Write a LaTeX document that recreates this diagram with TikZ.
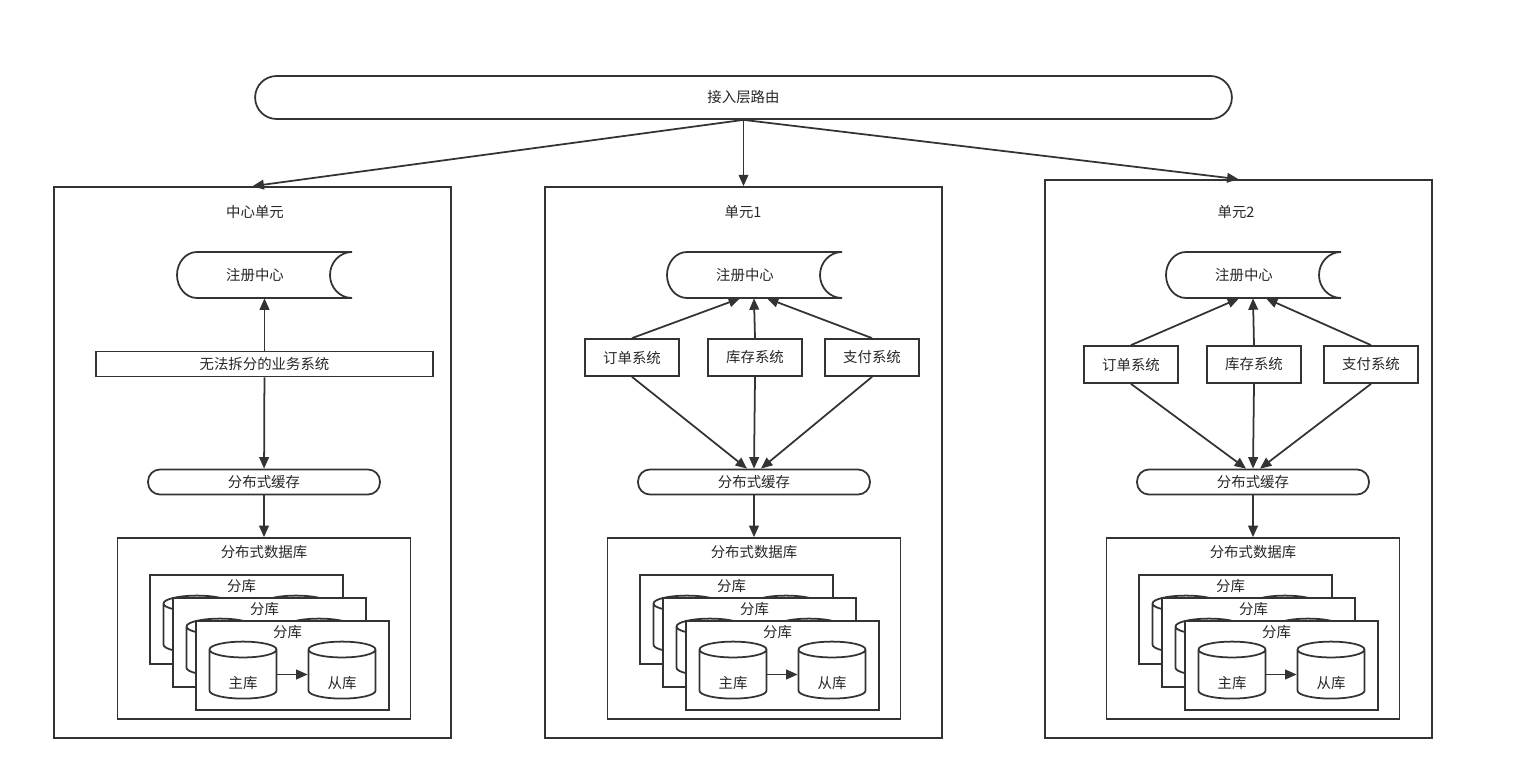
\documentclass[tikz,border=0pt]{standalone}
\usepackage{fontspec}
\setmainfont{Noto Sans CJK SC}
\usepackage{tikz}
\usetikzlibrary{arrows.meta, positioning, shapes.geometric, calc}

\begin{document}
\begin{tikzpicture}[x=0.02cm, y=0.02cm,
  every node/.style={font=\fontsize{8.2}{10}\selectfont, text=black!85},
  line/.style={draw=black!80, line width=1pt},
  arr/.style={line, -{Triangle[length=6.5pt, width=5.5pt]}},
  router/.style={line, rounded corners=0.43cm, minimum width=19.54cm, minimum height=0.86cm},
  unitbox/.style={line, minimum width=7.94cm, minimum height=11.02cm},
  regtext/.style={minimum width=3.12cm, minimum height=0.92cm},
  cachebox/.style={line, rounded corners=0.24cm, minimum width=4.64cm, minimum height=0.48cm},
  sysbox/.style={line, minimum width=1.88cm, minimum height=0.74cm},
  dbbox/.style={line, minimum width=5.86cm, minimum height=3.62cm},
  shardbox/.style={line, fill=white, minimum width=3.86cm, minimum height=1.78cm},
  shardlabel/.style={anchor=north, inner sep=1pt, xshift=-0.1cm, yshift=-1.7pt},
  dbcyl/.style={line, fill=white, cylinder, shape border rotate=90, aspect=0.55,
    minimum width=1.34cm, minimum height=1.14cm, inner sep=0pt,
    text height=0.56cm, text depth=0pt},
]
  % canvas 1518 x 784 px, 1 px = 0.02cm, y goes down as -y
  \useasboundingbox (0,0) rectangle (1518,-784);

  % access layer
  \node[router] (router) at (743.5,-97.5) {接入层路由};

  % unit frames
  \node[unitbox] (cunit) at (252.5,-462.5) {};
  \node[unitbox] (aunit) at (743.5,-462.5) {};
  \node[unitbox, minimum width=7.74cm, minimum height=11.16cm] (bunit) at (1238.5,-459) {};
  \node (ctitle) at (255,-212) {中心单元};
  \node (atitle) at (743,-212) {单元1};
  \node (btitle) at (1236,-212) {单元2};
  \foreach \t in {cunit, aunit, bunit}
    \draw[arr] (router.south) -- (\t.north);

  % registry, cache and sharded db, same in every unit
  \foreach \u/\cx in {c/264, a/754, b/1253} {
    \node[regtext] (\u-reg) at (\cx-9,-275) {注册中心};
    \draw[line] (\cx+88,-252) -- (\cx-67,-252)
      arc[start angle=90, end angle=270, x radius=20, y radius=23]
      -- (\cx+88,-298)
      arc[start angle=-90, end angle=-270, x radius=22, y radius=23];
    \node[cachebox] (\u-cache) at (\cx,-482) {分布式缓存};
    \node[dbbox] (\u-db) at (\cx,-628.5) {};
    \node (\u-dbtitle) at (\cx,-552) {分布式数据库};
    \draw[arr] (\u-cache) -- (\u-db);
    % three stacked shards, only the front one shows its labels
    \foreach \i/\mt/\st in {0/\phantom{主库}/\phantom{从库}, 1/\phantom{主库}/\phantom{从库}, 2/主库/从库} {
      \node[shardbox] (\u-s\i) at ({\cx-17.5+23*\i},{-619.5-23*\i}) {};
      \node[shardlabel] (\u-l\i) at (\u-s\i.north) {分库};
      \node[dbcyl] (\u-m\i) at ($(\u-s\i)+(-49.5,-9)$) {\mt};
      \node[dbcyl] (\u-r\i) at ($(\u-s\i)+(49.5,-9)$) {\st};
      \draw[arr] (\u-m\i) -- (\u-r\i);
    }
  }

  % centre unit: one business system
  \node[line, minimum width=6.74cm, minimum height=0.48cm] (c-biz) at (264.5,-364) {无法拆分的业务系统};
  \draw[arr] (c-biz) -- (c-biz |- c-reg.south);
  \draw[arr] (c-biz) -- (c-cache);

  % unit 1 and 2: split systems
  \foreach \u/\cx/\sy in {a/754/357.5, b/1253/364.5} {
    \node[sysbox] (\u-order) at (\cx-122,-\sy) {订单系统};
    \node[sysbox] (\u-stock) at (\cx+1,-\sy) {库存系统};
    \node[sysbox] (\u-pay) at (\cx+118,-\sy) {支付系统};
    \draw[arr] (\u-order.north) -- ([xshift=-0.1cm]\u-reg.south);
    \draw[arr] (\u-stock.north) -- ([xshift=0.18cm]\u-reg.south);
    \draw[arr] (\u-pay.north) -- ([xshift=0.44cm]\u-reg.south);
    \draw[arr] (\u-order.south) -- ([xshift=-0.14cm]\u-cache.north);
    \draw[arr] (\u-stock.south) -- (\u-cache.north);
    \draw[arr] (\u-pay.south) -- ([xshift=0.14cm]\u-cache.north);
  }
\end{tikzpicture}
\end{document}
